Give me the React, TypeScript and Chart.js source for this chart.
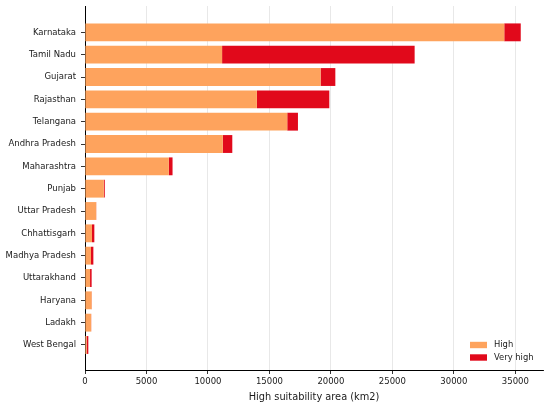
import { useEffect, useRef } from "react";
import Chart from "chart.js/auto";

const states = [
  "Karnataka", "Tamil Nadu", "Gujarat", "Rajasthan", "Telangana", "Andhra Pradesh", "Maharashtra",
  "Punjab", "Uttar Pradesh", "Chhattisgarh", "Madhya Pradesh", "Uttarakhand", "Haryana", "Ladakh", "West Bengal",
];
const highArea = [34100, 11150, 19160, 13980, 16450, 11210, 6820, 1530, 910, 570, 490, 410, 540, 500, 130];
const veryHighArea = [1340, 15660, 1200, 5890, 870, 770, 300, 80, 10, 190, 190, 130, 20, 10, 140];
const xTicks = [0, 5000, 10000, 15000, 20000, 25000, 30000, 35000];

const FONT = "'DejaVu Sans', sans-serif";

// legend drawn inside the plot, lower right, like matplotlib's "best" spot
const cornerLegend = {
  id: "cornerLegend",
  afterDraw(chart: any) {
    const { ctx, chartArea } = chart;
    ctx.save();
    ctx.font = `8.4px ${FONT}`;
    ctx.textBaseline = "middle";
    ctx.textAlign = "left";
    chart.data.datasets.forEach((ds: any, i: number) => {
      const cy = chartArea.bottom - 25 + i * 12.5;
      const x = chartArea.right - 73;
      ctx.fillStyle = ds.backgroundColor;
      ctx.fillRect(x, cy - 3.2, 17, 6.4);
      ctx.fillStyle = "#1a1a1a";
      ctx.fillText(ds.label, x + 24, cy);
    });
    ctx.restore();
  },
};

export default function App() {
  const canvasRef = useRef<HTMLCanvasElement | null>(null);

  useEffect(() => {
    if (!canvasRef.current) return;
    const ctx = canvasRef.current.getContext("2d");
    if (!ctx) return;

    const chart = new Chart(ctx, {
      type: "bar",
      data: {
        datasets: [
          { label: "High", data: highArea.map((v, i) => ({ x: v, y: i })), backgroundColor: "#fea35d", borderWidth: 0 },
          { label: "Very high", data: veryHighArea.map((v, i) => ({ x: v, y: i })), backgroundColor: "#e1091b", borderWidth: 0 },
        ],
      },
      options: {
        indexAxis: "y",
        animation: false,
        responsive: true,
        maintainAspectRatio: false,
        layout: { padding: { top: 6, right: 7, left: 0, bottom: 0 } },
        datasets: { bar: { barPercentage: 0.8, categoryPercentage: 1.0 } },
        plugins: { legend: { display: false }, tooltip: { enabled: false } },
        scales: {
          x: {
            type: "linear",
            stacked: true,
            min: 0,
            max: 37250,
            z: 1,
            afterBuildTicks: (s: any) => { s.ticks = xTicks.map((v) => ({ value: v })); },
            afterFit: (s: any) => { s.height = 37; s.paddingLeft = 0; s.paddingRight = 0; },
            grid: {
              color: (c: any) => (c.tick && c.tick.value === 0 ? "rgba(0,0,0,0)" : "#e2e2e2"),
              lineWidth: 0.8,
              tickColor: "#000",
              tickLength: 4,
              tickWidth: 0.8,
            },
            border: { color: "#000", width: 1 },
            ticks: { color: "#1a1a1a", font: { family: FONT, size: 8.5 }, padding: 3, maxRotation: 0, callback: (v: any) => String(v) },
            title: { display: true, text: "High suitability area (km2)", color: "#1a1a1a", font: { family: FONT, size: 9.8 }, padding: { top: 2, bottom: 4 } },
          },
          y: {
            type: "linear",
            stacked: true,
            reverse: true,
            offset: false,
            min: -1.18,
            max: states.length - 1 + 1.12,
            afterBuildTicks: (s: any) => { s.ticks = states.map((_, i) => ({ value: i })); },
            afterFit: (s: any) => { s.width = 85; s.paddingTop = 0; s.paddingBottom = 0; },
            grid: { offset: false, drawOnChartArea: false, tickColor: "#000", tickLength: 4, tickWidth: 0.8 },
            border: { color: "#000", width: 1 },
            ticks: { color: "#1a1a1a", font: { family: FONT, size: 8.5 }, padding: 5, autoSkip: false, callback: (v: any) => states[v] ?? "" },
          },
        },
      },
      plugins: [cornerLegend],
    });

    return () => chart.destroy();
  }, []);

  return (
    <div style={{ position: "absolute", left: 0, top: 0, width: 550, height: 407 }}>
      <canvas ref={canvasRef} />
    </div>
  );
}
